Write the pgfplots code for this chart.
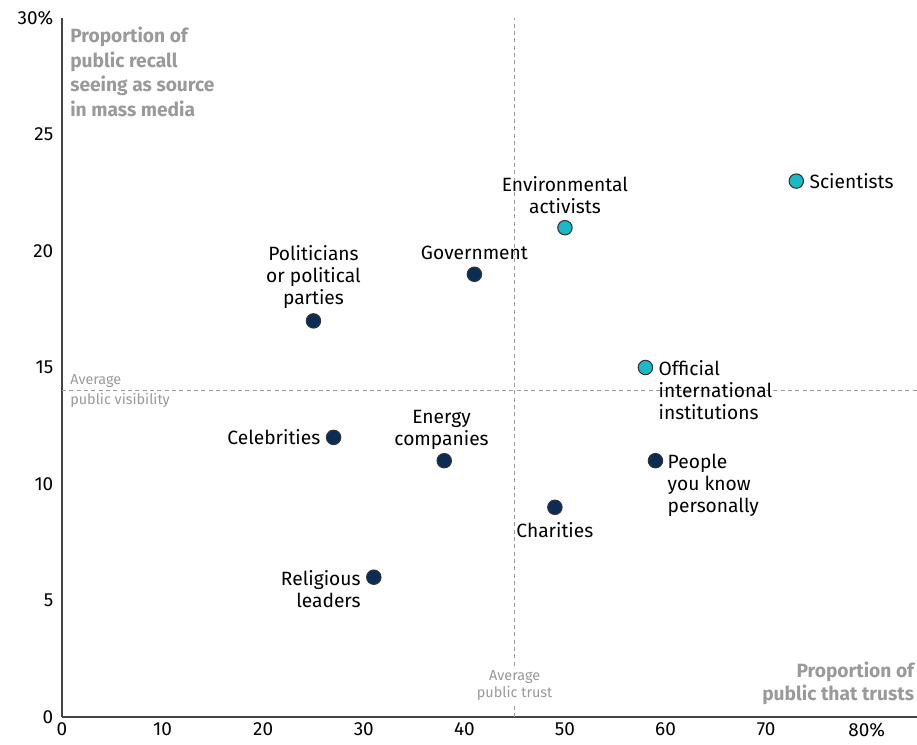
\documentclass[border=0pt]{standalone}
\usepackage{pgfplots}
\pgfplotsset{compat=1.18}
\usepackage{fontspec}
\setmainfont{Fira Sans}
\definecolor{navyc}{HTML}{0B2D55}
\definecolor{tealc}{HTML}{19B9C9}
\definecolor{graytxt}{HTML}{9A9A9A}
\definecolor{axisgray}{HTML}{444444}
\definecolor{edgec}{HTML}{333333}
\begin{document}
\begin{tikzpicture}
\begin{axis}[
  scale only axis,
  width=641.25pt, height=524.25pt,
  xmin=0, xmax=85, ymin=0, ymax=30,
  axis lines*=left,
  axis line style={draw=axisgray, line width=0.9pt},
  xtick={0,10,...,80}, xticklabels={0,10,20,30,40,50,60,70,80\%},
  ytick={0,5,...,30}, yticklabels={0,5,10,15,20,25,30\%},
  major tick length=0pt,
  tick label style={font=\fontsize{14.2}{16}\selectfont, text=black},
  /pgf/number format/assume math mode=true,
  xticklabel style={yshift=-1pt},
  yticklabel style={xshift=-3pt},
  clip=false,
]
\draw[graytxt, line width=0.8pt, dash pattern=on 3pt off 2.5pt] (axis cs:45,0) -- (axis cs:45,30);
\draw[graytxt, line width=0.8pt, dash pattern=on 3pt off 2.5pt] (axis cs:0,14) -- (axis cs:85,14);

\addplot[only marks, mark=*, mark size=5.4pt, mark options={fill=navyc, draw=edgec, line width=0.8pt}]
  coordinates {(41,19) (25,17) (27,12) (38,11) (59,11) (49,9) (31,6)};
\addplot[only marks, mark=*, mark size=5.4pt, mark options={fill=tealc, draw=edgec, line width=0.8pt}]
  coordinates {(73,23) (50,21) (58,15)};

\begin{scope}[every node/.style={font=\fontsize{14.4}{16.5}\selectfont, text=black, inner sep=0pt}]
\node[anchor=west, xshift=9.75pt] at (axis cs:73,23) {Scientists};
\node[anchor=south, align=center, yshift=10.5pt] at (axis cs:50,21) {Environmental\\activists};
\node[anchor=south, yshift=11pt] at (axis cs:41,19) {Government};
\node[anchor=south, align=center, yshift=9pt] at (axis cs:25,17) {Politicians\\or political\\parties};
\node[anchor=north west, align=left, xshift=9.75pt, yshift=5.5pt] at (axis cs:58,15) {Official\\international\\institutions};
\node[anchor=east, xshift=-9.75pt] at (axis cs:27,12) {Celebrities};
\node[anchor=south, align=center, yshift=8pt, xshift=-2pt] at (axis cs:38,11) {Energy\\companies};
\node[anchor=north west, align=left, xshift=9pt, yshift=5.5pt] at (axis cs:59,11) {People\\you know\\personally};
\node[anchor=north, yshift=-11pt] at (axis cs:49,9) {Charities};
\node[anchor=north east, align=right, xshift=-9.75pt, yshift=5.5pt] at (axis cs:31,6) {Religious\\leaders};
\end{scope}

\node[anchor=north west, align=left, inner sep=0pt, text=graytxt, font=\bfseries\fontsize{14.4}{18.5}\selectfont, xshift=6pt, yshift=-6.5pt] at (axis cs:0,30) {Proportion of\\public recall\\seeing as source\\in mass media};
\node[anchor=south east, align=right, inner sep=0pt, text=graytxt, font=\bfseries\fontsize{14.4}{17}\selectfont, xshift=-2pt, yshift=9pt] at (axis cs:85,0) {Proportion of\\public that trusts};
\node[anchor=west, align=left, inner sep=0pt, text=graytxt, font=\fontsize{10.8}{15}\selectfont, xshift=6pt] at (axis cs:0,14) {Average\\public visibility};
\node[align=center, inner sep=1.5pt, fill=white, text=graytxt, font=\fontsize{10.8}{12.75}\selectfont] at (axis cs:45,1.33) {Average\\public trust};
\end{axis}
\pgfresetboundingbox
\path[use as bounding box] ([xshift=-46.5pt, yshift=-21pt]current axis.south west) rectangle ([yshift=13.5pt]current axis.north east);
\end{tikzpicture}
\end{document}
